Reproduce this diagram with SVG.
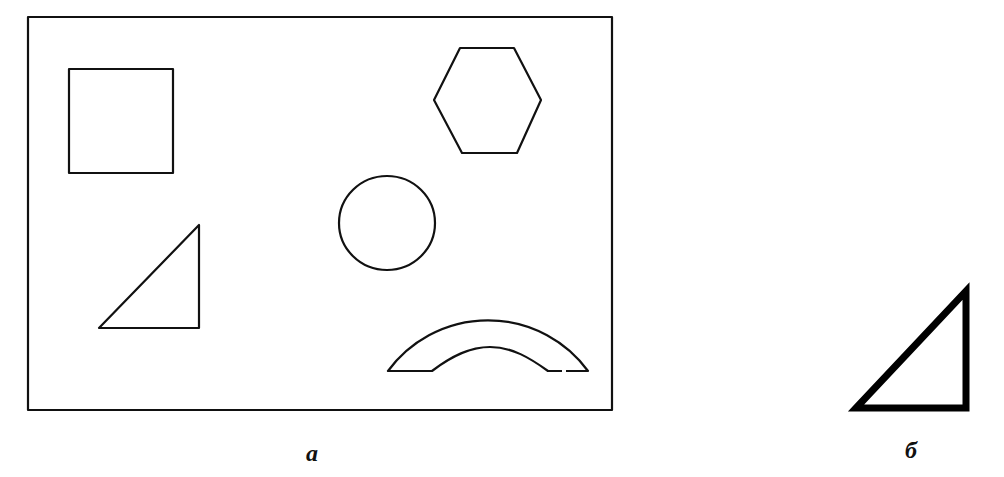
<svg xmlns="http://www.w3.org/2000/svg" width="1004" height="477" viewBox="0 0 1004 477">
<style>
.s{fill:none;stroke:#111;stroke-width:2.2;stroke-linejoin:round}
.t{font-family:"Liberation Serif",serif;font-style:italic;font-weight:bold;font-size:24px;fill:#111;text-anchor:middle}
</style>
<rect width="1004" height="477" fill="#fff"/>
<g id="frame"><rect class="s" x="28" y="17" width="584" height="393"/></g>
<g id="square"><rect class="s" x="69" y="69" width="104" height="104"/></g>
<g id="hexagon"><polygon class="s" points="434,100 460,48 514,48 541,100 517,153 462,153"/></g>
<g id="circle"><ellipse class="s" cx="387" cy="223" rx="48" ry="47"/></g>
<g id="triangle"><polygon class="s" points="99,328 199,225 199,328"/></g>
<g id="arch"><path class="s" d="M566,371 L588,371 A124 124 0 0 0 388,371 L432,371 C452,356 470,347 490,347 C512,347 530,358 548,371 L562,371"/></g>
<g id="triangle-b"><polygon points="856,408 966,291 966,408" fill="none" stroke="#000" stroke-width="7" stroke-linejoin="miter"/></g>
<text class="t" x="312" y="461">а</text>
<text class="t" x="911" y="458">б</text>
</svg>
